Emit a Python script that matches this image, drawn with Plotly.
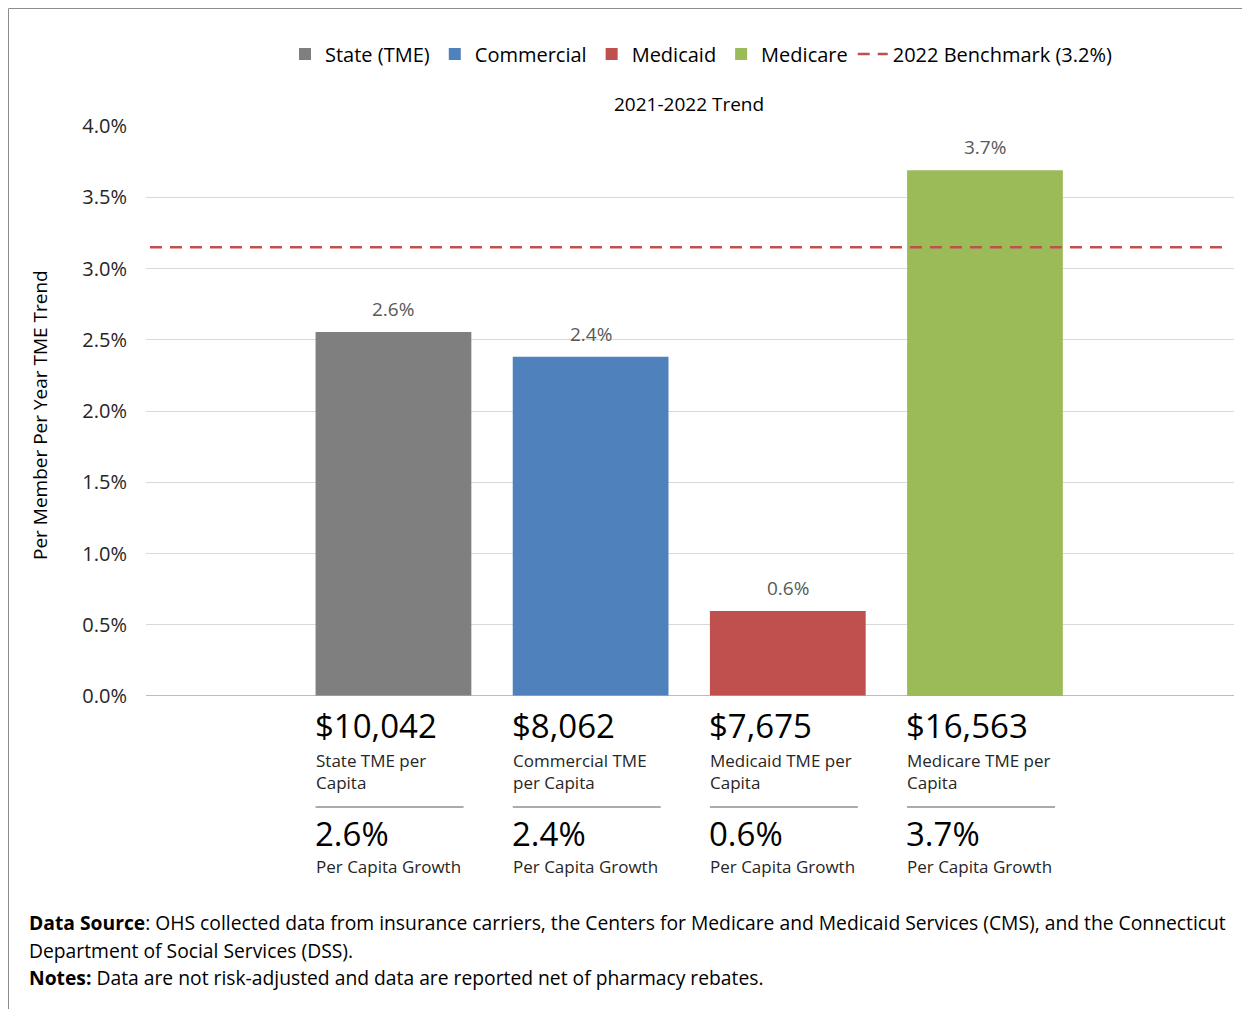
import plotly.graph_objects as go

# Data
categories = ["State (TME)", "Commercial", "Medicaid", "Medicare"]
growth = [2.555, 2.38, 0.597, 3.69]
growth_labels = ["2.6%", "2.4%", "0.6%", "3.7%"]
tme_per_capita = ["$10,042", "$8,062", "$7,675", "$16,563"]
tme_captions = ["State TME per<br>Capita", "Commercial TME<br>per Capita",
                "Medicaid TME per<br>Capita", "Medicare TME per<br>Capita"]
benchmark_name = "2022 Benchmark (3.2%)"
benchmark = 3.15
colors = ["#7f7f7f", "#4f81bd", "#c0504d", "#9bbb59"]
y_ticks = [0, 0.5, 1.0, 1.5, 2.0, 2.5, 3.0, 3.5, 4.0]

# the page body adds an 8px offset, so the figure is laid out in screen coords minus 8
OFF = 8
W, H = 1234, 1001
ML, MT = 146 - OFF, 126 - OFF
MR = W - (1234 - OFF)
MB = H - (696 - OFF)
PW, PH = W - ML - MR, H - MT - MB


def px_x(p):
    return (p - OFF - ML) / PW


def px_y(p):
    return (H - MB - (p - OFF)) / PH


bar_width = 0.79
x_range = [-1.255, 4.263]
xs = list(range(len(categories)))

fig = go.Figure()

for i, name in enumerate(categories):
    fig.add_trace(go.Bar(
        x=[xs[i]], y=[growth[i]], width=bar_width, name=name,
        marker=dict(color=colors[i], line=dict(width=0)),
    ))

fig.add_trace(go.Scatter(
    x=[x_range[0] + 0.02, x_range[1] - 0.05], y=[benchmark, benchmark],
    mode="lines", name=benchmark_name,
    line=dict(color="#c0504d", width=2.5, dash="12px,8px"),
))

annotations = []
shapes = []
for i in range(len(categories)):
    left = xs[i] - bar_width / 2
    annotations.append(dict(x=xs[i], y=growth[i], xref="x", yref="y", yanchor="bottom", yshift=8,
                            text=growth_labels[i], showarrow=False,
                            font=dict(size=19, color="#595959")))
    annotations.append(dict(x=left, y=px_y(725), xref="x", yref="paper", xanchor="left", xshift=-3,
                            yanchor="middle", text=tme_per_capita[i], showarrow=False,
                            font=dict(size=33, color="#000000")))
    annotations.append(dict(x=left, y=px_y(771), xref="x", yref="paper", xanchor="left", xshift=-2,
                            yanchor="middle", align="left", text=tme_captions[i], showarrow=False,
                            font=dict(size=17, color="#262626")))
    annotations.append(dict(x=left, y=px_y(833), xref="x", yref="paper", xanchor="left", xshift=-3,
                            yanchor="middle", text=growth_labels[i], showarrow=False,
                            font=dict(size=33, color="#000000")))
    annotations.append(dict(x=left, y=px_y(866), xref="x", yref="paper", xanchor="left", xshift=-2,
                            yanchor="middle", text="Per Capita Growth", showarrow=False,
                            font=dict(size=17, color="#262626")))
    shapes.append(dict(type="line", xref="x", yref="paper", x0=left, x1=left + bar_width * 0.95,
                       y0=px_y(807), y1=px_y(807), line=dict(color="#595959", width=1)))

annotations.append(dict(x=px_x(689), y=px_y(104), xref="paper", yref="paper", xanchor="center",
                        yanchor="middle", text="2021-2022 Trend",
                        showarrow=False, font=dict(size=19, color="#000000")))
annotations.append(dict(x=px_x(40), y=px_y(415), xref="paper", yref="paper", xanchor="center",
                        yanchor="middle", text="Per Member Per Year TME Trend", textangle=-90,
                        showarrow=False, font=dict(size=19, color="#000000")))

foot = [
    (922, "<b>Data Source</b>: OHS collected data from insurance carriers, the Centers for Medicare and Medicaid Services (CMS), and the Connecticut"),
    (950, "Department of Social Services (DSS)."),
    (977, "<b>Notes:</b> Data are not risk-adjusted and data are reported net of pharmacy rebates."),
]
for py, t in foot:
    annotations.append(dict(x=px_x(27), y=px_y(py), xref="paper", yref="paper", xanchor="left",
                            yanchor="middle", text=t, showarrow=False,
                            font=dict(size=19.3, color="#000000")))

# outer frame (top and left edges)
shapes.append(dict(type="line", xref="paper", yref="paper", x0=px_x(8.5), x1=px_x(1250),
                   y0=px_y(8.5), y1=px_y(8.5), line=dict(color="#8c8c8c", width=1)))
shapes.append(dict(type="line", xref="paper", yref="paper", x0=px_x(8.5), x1=px_x(8.5),
                   y0=px_y(8.5), y1=px_y(1017), line=dict(color="#8c8c8c", width=1)))

fig.update_layout(
    width=W, height=H,
    margin=dict(l=ML, r=MR, t=MT, b=MB, autoexpand=False),
    paper_bgcolor="white", plot_bgcolor="white",
    font=dict(family="Open Sans", size=18, color="#262626"),
    barmode="overlay",
    showlegend=True,
    legend=dict(orientation="h", x=px_x(701), xanchor="center", y=px_y(54), yanchor="middle",
                font=dict(size=20, color="#000000"), traceorder="normal", itemwidth=30),
    xaxis=dict(range=x_range, showticklabels=False, showgrid=False, zeroline=False,
               fixedrange=True),
    yaxis=dict(range=[0, 4.0], tickvals=y_ticks, ticktext=[f"{v:.1f}%" for v in y_ticks],
               showgrid=True, gridcolor="#d9d9d9", gridwidth=1, zeroline=False,
               showline=False, ticks="", ticklabelstandoff=18,
               tickfont=dict(size=20, color="#262626")),
    annotations=annotations,
    shapes=shapes,
)

# baseline at 0%
fig.add_hline(y=0, line=dict(color="#a6a6a6", width=1.5), layer="above")

fig.write_html("out.html")
